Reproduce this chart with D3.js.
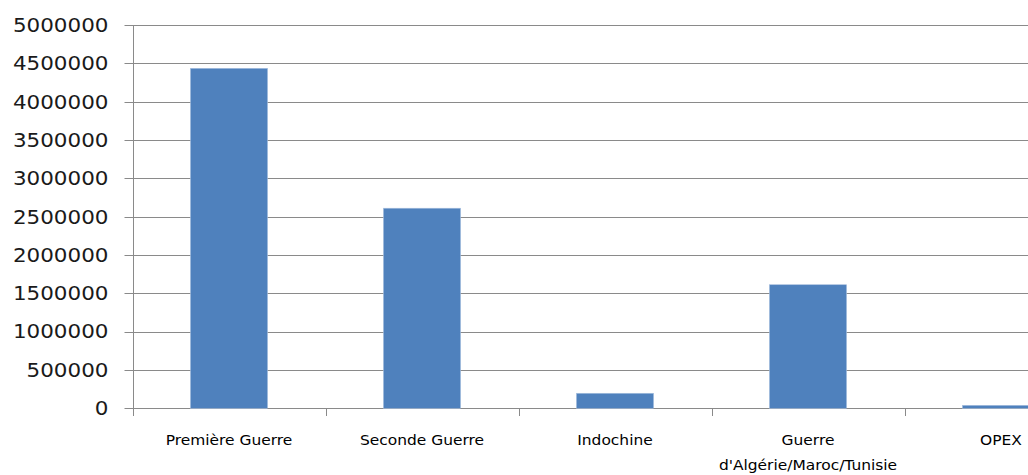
<!DOCTYPE html>
<html>
<head>
<meta charset="utf-8">
<script src="https://cdn.jsdelivr.net/npm/d3@7"></script>
<style>
  html, body { margin: 0; padding: 0; background: #ffffff; }
  svg { display: block; }
</style>
</head>
<body>
<svg id="chart" width="1028" height="475"></svg>
<script>
// ---- data ----
const categories = [
  ["Première Guerre"],
  ["Seconde Guerre"],
  ["Indochine"],
  ["Guerre", "d'Algérie/Maroc/Tunisie"],
  ["OPEX"]
];
const values = [4435000, 2610000, 196000, 1612000, 39000];
const yTicks = [0, 500000, 1000000, 1500000, 2000000, 2500000, 3000000, 3500000, 4000000, 4500000, 5000000];

// ---- layout ----
const W = 1028, H = 475;
const plotLeft = 132.5, bandStep = 193, plotTop = 25, plotBottom = 408.3;
const svg = d3.select("#chart");

const keys = categories.map((c, i) => i);
const x = d3.scaleBand()
  .domain(keys)
  .range([plotLeft, plotLeft + bandStep * categories.length])
  .paddingInner(0).paddingOuter(0);
const y = d3.scaleLinear().domain([0, 5000000]).range([plotBottom, plotTop]);

const gridColor = "#8a8a8a";

// gridlines (extend left as tick marks)
svg.append("g").selectAll("line").data(yTicks).join("line")
  .attr("x1", plotLeft - 8)
  .attr("x2", x.range()[1])
  .attr("y1", d => Math.round(y(d)) + 0.5)
  .attr("y2", d => Math.round(y(d)) + 0.5)
  .attr("stroke", gridColor).attr("stroke-width", 1);

// y axis line
svg.append("line")
  .attr("x1", Math.round(plotLeft) + 0.5).attr("x2", Math.round(plotLeft) + 0.5)
  .attr("y1", Math.round(plotTop)).attr("y2", Math.round(plotBottom) + 8)
  .attr("stroke", gridColor);

// x ticks at band boundaries
const bounds = keys.map(k => x(k)).concat([x.range()[1]]);
svg.append("g").selectAll("line").data(bounds).join("line")
  .attr("x1", d => Math.round(d) + 0.5).attr("x2", d => Math.round(d) + 0.5)
  .attr("y1", Math.round(plotBottom)).attr("y2", Math.round(plotBottom) + 8)
  .attr("stroke", gridColor);

// bars
const barW = x.bandwidth() / 2.5;
svg.append("g").selectAll("rect").data(values).join("rect")
  .attr("x", (d, i) => x(i) + (x.bandwidth() - barW) / 2)
  .attr("width", barW)
  .attr("y", d => y(d))
  .attr("height", d => plotBottom - y(d))
  .attr("fill", "#4f81bd")
  .attr("stroke", "#a9c0df").attr("stroke-width", 0.6);

// y labels
const yl = svg.append("g").selectAll("text").data(yTicks).join("text")
  .attr("transform", d => `translate(${plotLeft - 24},${y(d)}) scale(1.13,1)`)
  .attr("text-anchor", "end")
  .attr("dy", "0.36em")
  .attr("font-family", "DejaVu Sans, Verdana, sans-serif")
  .attr("font-size", 19)
  .attr("fill", "#1a1a1a")
  .text(d => String(d));

// category labels
const catG = svg.append("g");
categories.forEach((lines, i) => {
  lines.forEach((ln, j) => {
    const t = catG.append("text")
      .attr("font-family", "DejaVu Sans, Verdana, sans-serif")
      .attr("font-size", 14.3)
      .attr("fill", "#000")
      .attr("text-anchor", "middle")
      .text(ln);
    const w = t.node().getComputedTextLength() * 1.08;
    let cx = x(i) + x.bandwidth() / 2;
    if (cx + w / 2 > W - 5) cx = W - 5 - w / 2;
    t.attr("transform", `translate(${cx},${445 + j * 25}) scale(1.08,1)`);
  });
});
</script>
</body>
</html>
